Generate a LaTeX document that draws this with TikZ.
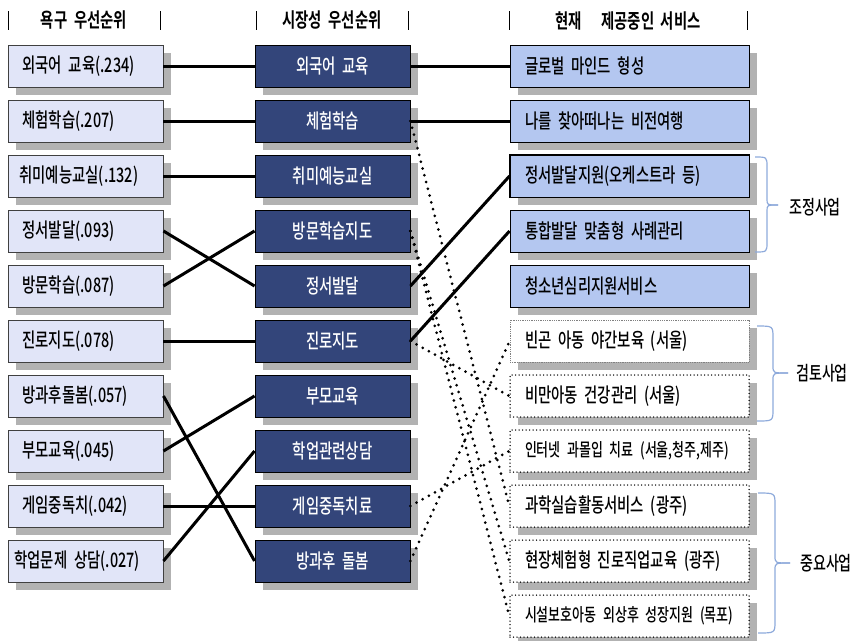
\documentclass[tikz,border=0pt]{standalone}
\usepackage{fontspec}
\setmainfont{Noto Sans CJK KR Medium}[FakeStretch=0.72, WordSpace=2, BoldFont={Noto Sans CJK KR Bold}]
\usepackage{tikz}
\usetikzlibrary{shapes,shadows,positioning}
\definecolor{needfill}{HTML}{E1E5F8}
\definecolor{needline}{HTML}{404040}
\definecolor{marketfill}{HTML}{33457A}
\definecolor{servfill}{HTML}{B4C7F0}
\definecolor{shadowgray}{HTML}{B2B2B2}
\definecolor{bracecol}{HTML}{8EAADB}
\tikzstyle{boxshadow} = [drop shadow={shadow xshift=8pt, shadow yshift=-8pt, fill=shadowgray, opacity=1}]
\tikzstyle{needdata} = [draw=needline, line width=0.9pt, fill=needfill, text width=126pt, inner xsep=14.5pt, minimum height=42pt, align=left, boxshadow, font=\fontsize{20}{22}\selectfont]
\tikzstyle{marketdata} = [draw=black, line width=0.9pt, fill=marketfill, text=white, minimum width=155pt, minimum height=42pt, boxshadow, font=\fontsize{20}{22}\selectfont]
\tikzstyle{servdata} = [draw=black, line width=0.9pt, fill=servfill, text width=209pt, inner xsep=15pt, minimum height=42pt, align=left, boxshadow, font=\fontsize{20}{22}\selectfont]
\tikzstyle{plandata} = [servdata, fill=white, line width=1.5pt, dash pattern=on 0pt off 3.5pt, line cap=round]
\tikzstyle{headdata} = [minimum height=17pt, inner ysep=0pt, font=\bfseries\fontsize{20}{22}\selectfont]
\tikzstyle{headbar} = [draw, line width=0.8pt]
\tikzstyle{line} = [draw, line width=3pt]
\tikzstyle{dotline} = [draw, line width=3pt, dash pattern=on 0pt off 7pt, line cap=round]
\tikzstyle{bracket} = [draw=bracecol, line width=1.2pt]
\tikzstyle{grouplabel} = [font=\fontsize{19.5}{22}\selectfont]
\newcommand{\needdata}[2]{node (n#1) [needdata] {#2}}
\newcommand{\marketdata}[2]{node (m#1) [marketdata] {#2}}
\newcommand{\servdata}[2]{node (s#1) [servdata] {#2}}
\newcommand{\plandata}[2]{node (s#1) [plandata] {#2}}
\newcommand{\headdata}[2]{node (h#1) [headdata] {#2}}

\begin{document}
\begin{tikzpicture}[x=1pt,y=1pt]
\useasboundingbox (0,0) rectangle (858,-640);

% column heads
\path (84,-20.5) \headdata{1}{욕구\ 우선순위};
\path (h1)+(248,0) \headdata{2}{시장성\ 우선순위};
\path (h2)+(296,0) \headdata{3}{현재\ \ \ 제공중인\ 서비스};
\path [headbar] ([xshift=-76pt]h1.north) -- ([xshift=-76pt]h1.south);
\path [headbar] ([xshift=76pt]h1.north) -- ([xshift=76pt]h1.south);
\path [headbar] ([xshift=-76pt]h2.north) -- ([xshift=-76pt]h2.south);
\path [headbar] ([xshift=76pt]h2.north) -- ([xshift=76pt]h2.south);
\path [headbar] ([xshift=-119pt]h3.north) -- ([xshift=-119pt]h3.south);
\path [headbar] ([xshift=119pt]h3.north) -- ([xshift=119pt]h3.south);

% needs
\path (85.5,-66) \needdata{1}{외국어 교육(.234)};
\path (n1)+(0,-55) \needdata{2}{체험학습(.207)};
\path (n2)+(0,-55) \needdata{3}{\hspace{-3pt}취미예능교실(.132)};
\path (n3)+(0,-55) \needdata{4}{정서발달(.093)};
\path (n4)+(0,-55) \needdata{5}{방문학습(.087)};
\path (n5)+(0,-55) \needdata{6}{진로지도(.078)};
\path (n6)+(0,-55) \needdata{7}{방과후돌봄(.057)};
\path (n7)+(0,-55) \needdata{8}{부모교육(.045)};
\path (n8)+(0,-55) \needdata{9}{게임중독치(.042)};
\path (n9)+(0,-55) \needdata{10}{\hspace{-8pt}학업문제~상담(.027)};

% market
\path (n1)+(247,0) \marketdata{1}{외국어 교육};
\path (m1)+(0,-55) \marketdata{2}{체험학습};
\path (m2)+(0,-55) \marketdata{3}{취미예능교실};
\path (m3)+(0,-55) \marketdata{4}{방문학습지도};
\path (m4)+(0,-55) \marketdata{5}{정서발달};
\path (m5)+(0,-55) \marketdata{6}{진로지도};
\path (m6)+(0,-55) \marketdata{7}{부모교육};
\path (m7)+(0,-55) \marketdata{8}{학업관련상담};
\path (m8)+(0,-55) \marketdata{9}{게임중독치료};
\path (m9)+(0,-55) \marketdata{10}{방과후 돌봄};

% services
\path (m1)+(297,0) \servdata{1}{글로벌 마인드 형성};
\path (s1)+(0,-55) \servdata{2}{나를 찾아떠나는 비전여행};
\path (s2)+(0,-55) \servdata{3}{정서발달지원(오케스트라~등)};
\path [draw, line width=1.8pt] (s3.north west) rectangle (s3.south east);
\path (s3)+(0,-55) \servdata{4}{통합발달 맞춤형 사례관리};
\path (s4)+(0,-55) \servdata{5}{청소년심리지원서비스};
\path (s5)+(0,-55) node (s6) [servdata, fill=white, draw=gray, line width=0.8pt, densely dotted] {빈곤 아동 야간보육 (서울)};
\path (s6)+(0,-55) \plandata{7}{비만아동 건강관리 (서울)};
\path (s7)+(0,-55) \plandata{8}{{\fontsize{18}{20}\selectfont 인터넷~과몰입~치료~(서울,청주,제주)}};
\path (s8)+(0,-55) \plandata{9}{과학실습활동서비스 (광주)};
\path (s9)+(0,-55) \plandata{10}{현장체험형~진로직업교육~(광주)};
\path (s10)+(0,-55) \plandata{11}{{\fontsize{18}{20}\selectfont 시설보호아동~외상후~성장지원~(목포)}};

% needs to market
\path [line] (n1.east) -- (m1.west);
\path [line] (n2.east) -- (m2.west);
\path [line] (n3.east) -- (m3.west);
\path [line] (n4.east) -- (m5.west);
\path [line] (n5.east) -- (m4.west);
\path [line] (n6.east) -- (m6.west);
\path [line] (n7.east) -- (m10.west);
\path [line] (n8.east) -- (m7.west);
\path [line] (n9.east) -- (m9.west);
\path [line] (n10.east) -- (m8.west);

% market to services
\path [line] (m1.east) -- (s1.west);
\path [line] (m2.east) -- (s2.west);
\path [line] (m5.east) -- (s3.west);
\path [line] (m6.east) -- (s4.west);
\path [dotline] (m2.east) -- (s9.west);
\path [dotline] (m4.east) -- (s10.west);
\path [dotline] (m4.east) -- (s11.west);
\path [dotline] (m6.east) -- (s7.west);
\path [dotline] (m9.east) -- (s8.west);
\path [dotline] (m10.east) -- (s6.west);

% groups
\path [bracket] (755,-157) .. controls (767,-157) .. (767,-167) -- (767,-199) .. controls (767,-205) .. (778,-205);
\path [bracket] (778,-205) .. controls (767,-205) .. (767,-211) -- (767,-242) .. controls (767,-252) .. (755,-252);
\path (815,-207) node (g1) [grouplabel] {조정사업};
\path [bracket] (757,-326) .. controls (773,-326) .. (773,-338) -- (773,-366) .. controls (773,-373) .. (788,-373);
\path [bracket] (788,-373) .. controls (773,-373) .. (773,-380) -- (773,-409) .. controls (773,-421) .. (757,-421);
\path (822,-373) node (g2) [grouplabel] {검토사업};
\path [bracket] (758,-493) .. controls (775,-493) .. (775,-505) -- (775,-556) .. controls (775,-563) .. (790,-563);
\path [bracket] (790,-563) .. controls (775,-563) .. (775,-570) -- (775,-621) .. controls (775,-633) .. (758,-633);
\path (826,-563) node (g3) [grouplabel] {중요사업};
\end{tikzpicture}
\end{document}
